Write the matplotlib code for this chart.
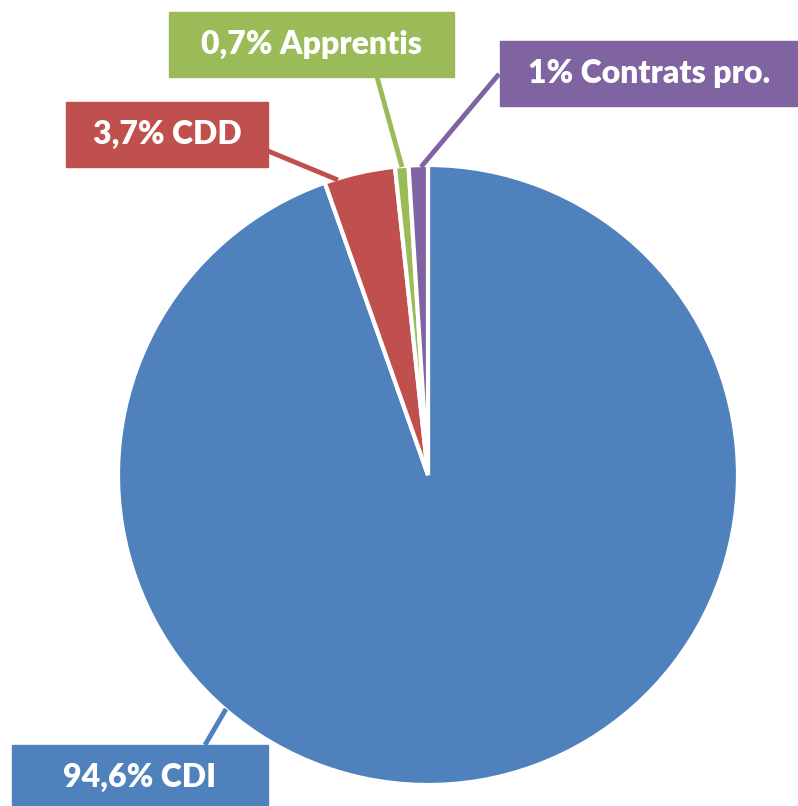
import matplotlib.pyplot as plt
from matplotlib.patches import Rectangle

labels = ['94,6% CDI', '3,7% CDD', '0,7% Apprentis', '1% Contrats pro.']
values = [94.6, 3.7, 0.7, 1.0]
colors = ['#4F81BD', '#C0504D', '#9BBB59', '#8064A2']

W, H = 798, 806
fig = plt.figure(figsize=(W / 100, H / 100), dpi=100)
ax = fig.add_axes([0, 0, 1, 1])

def py(y):
    # pixel row -> data y
    return H - y

ax.pie(values, colors=colors, startangle=90, counterclock=False,
       center=(428, py(475)), radius=310, frame=True,
       wedgeprops=dict(edgecolor='white', linewidth=3))

# label boxes: (x0, y0, x1, y1) in pixels, leader line (box end, wedge end)
boxes = [(12, 745, 268, 815), (66, 102, 268, 167),
         (169, 12, 454, 77), (500, 41, 798, 106)]
leaders = [((205, 745), (226, 709)), ((268, 151), (338, 180)),
           ((377, 77), (402, 167)), ((499, 74), (421, 167))]

for lab, c, (x0, y0, x1, y1), (p, q) in zip(labels, colors, boxes, leaders):
    ax.plot([p[0], q[0]], [py(p[1]), py(q[1])], color=c, lw=3.5,
            solid_capstyle='butt', zorder=3)
    ax.add_patch(Rectangle((x0, py(y1)), x1 - x0, y1 - y0, color=c, zorder=4))
    ty = (y0 + min(y1, 806)) / 2 + (2 if y1 > 806 else 0)
    ax.text((x0 + x1) / 2, py(ty), lab, color='white', fontsize=23,
            fontweight='heavy', family='Lato', ha='center', va='center',
            zorder=5)

ax.set_xlim(0, W)
ax.set_ylim(0, H)
ax.set_aspect('equal')
ax.axis('off')
fig.savefig('out.png', dpi=100)
